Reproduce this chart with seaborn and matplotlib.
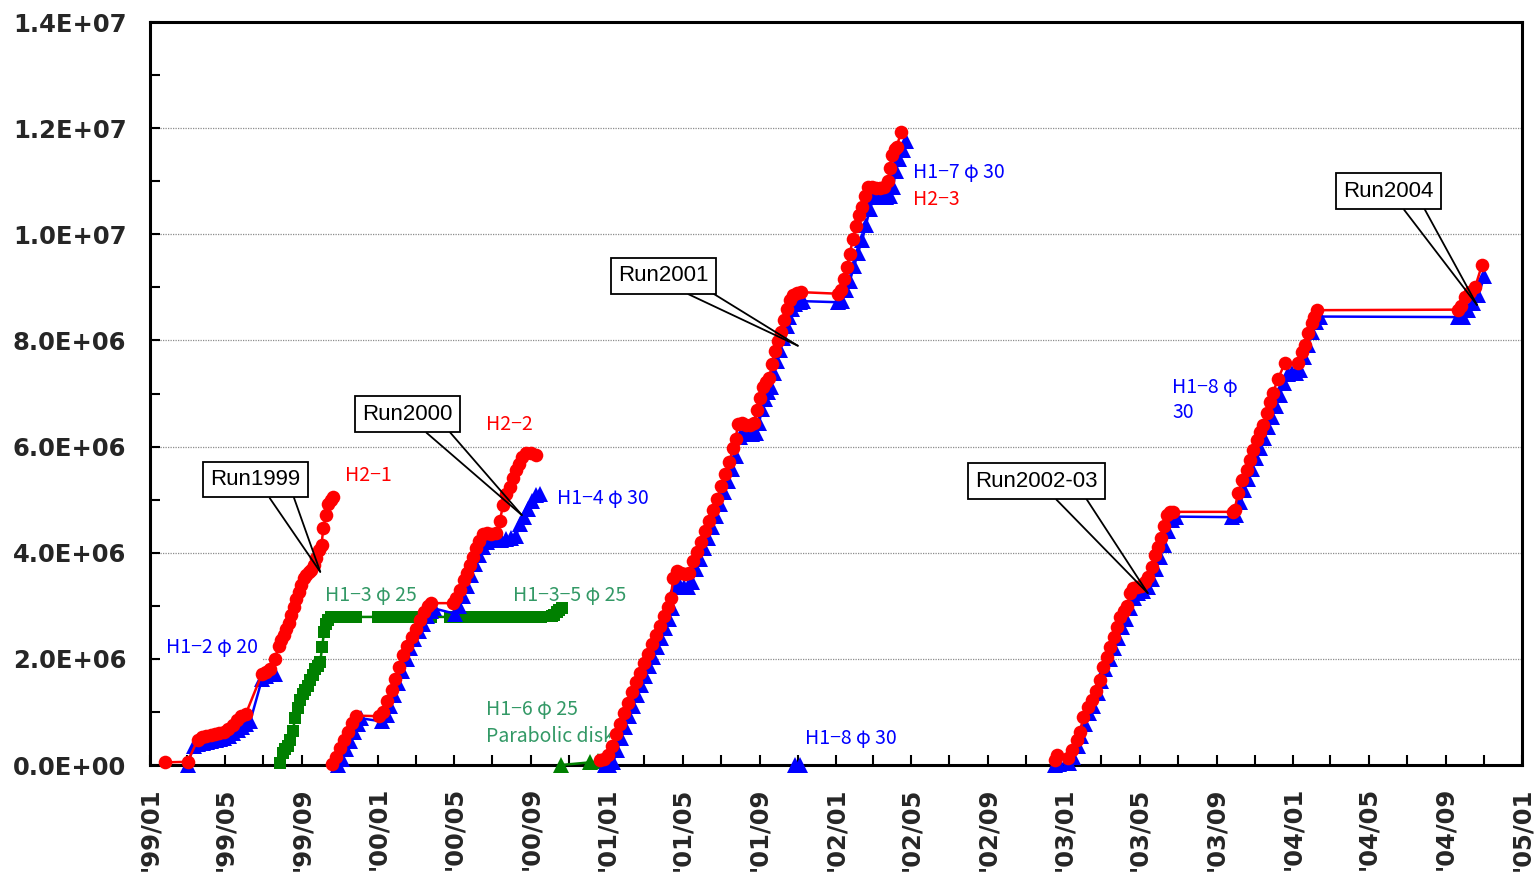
import matplotlib
matplotlib.use('Agg')
import matplotlib.pyplot as plt
import matplotlib.dates as mdates
from matplotlib.ticker import MultipleLocator, FuncFormatter
from matplotlib.transforms import Bbox, TransformedBbox
import pandas as pd
import seaborn as sns

# ---------------- data (values in units of 1E+06) ----------------
# H2-1 (red, Run1999)
h2_1_dates = ["1999-01-25", "1999-03-02", "1999-03-18", "1999-03-25", "1999-04-01", "1999-04-08",
              "1999-04-15", "1999-04-22", "1999-04-29", "1999-05-06", "1999-05-13", "1999-05-20",
              "1999-05-27", "1999-06-03", "1999-06-29", "1999-07-05", "1999-07-12", "1999-07-19",
              "1999-07-26", "1999-07-30", "1999-08-03", "1999-08-07", "1999-08-11", "1999-08-15",
              "1999-08-19", "1999-08-23", "1999-08-27", "1999-08-31", "1999-09-04", "1999-09-08",
              "1999-09-12", "1999-09-16", "1999-09-20", "1999-09-24", "1999-09-28", "1999-10-02",
              "1999-10-05", "1999-10-09", "1999-10-13", "1999-10-17", "1999-10-20"]
h2_1_vals = [0.05, 0.06, 0.47, 0.52, 0.54, 0.56, 0.58, 0.60, 0.62, 0.68, 0.75, 0.85,
             0.93, 0.96, 1.72, 1.75, 1.80, 2.00, 2.24, 2.35, 2.45, 2.56, 2.68, 2.82,
             2.98, 3.12, 3.26, 3.40, 3.52, 3.58, 3.63, 3.68, 3.76, 3.90, 4.05, 4.15,
             4.47, 4.72, 4.92, 5.00, 5.05]

# H1-2 phi20 (blue)
h1_2_dates = ["1999-03-02", "1999-03-12", "1999-03-19", "1999-03-26", "1999-04-02", "1999-04-09",
              "1999-04-16", "1999-04-23", "1999-04-30", "1999-05-07", "1999-05-14", "1999-05-21",
              "1999-05-28", "1999-06-04", "1999-06-10", "1999-06-29", "1999-07-06", "1999-07-13",
              "1999-07-20"]
h1_2_vals = [0.00, 0.36, 0.40, 0.42, 0.44, 0.46, 0.47, 0.49, 0.51, 0.55, 0.60, 0.66,
             0.72, 0.78, 0.82, 1.62, 1.68, 1.71, 1.72]

# H1-3 phi25 / H1-3-5 phi25 (green squares)
h1_3_dates = ["1999-07-28", "1999-08-01", "1999-08-05", "1999-08-09", "1999-08-13", "1999-08-17",
              "1999-08-21", "1999-08-25", "1999-08-29", "1999-09-02", "1999-09-06", "1999-09-10",
              "1999-09-14", "1999-09-18", "1999-09-22", "1999-09-26", "1999-09-30", "1999-10-03",
              "1999-10-06", "1999-10-09", "1999-10-13", "1999-10-17", "1999-10-22", "1999-10-27",
              "1999-11-01", "1999-11-06", "1999-11-11", "1999-11-16", "1999-11-21", "1999-11-26",
              "1999-12-31", "2000-01-05", "2000-01-10", "2000-01-15", "2000-01-20", "2000-01-25",
              "2000-01-30", "2000-02-04", "2000-02-09", "2000-02-14", "2000-02-19", "2000-02-24",
              "2000-02-29", "2000-03-05", "2000-03-10", "2000-03-15", "2000-03-20", "2000-03-25",
              "2000-04-24", "2000-04-29", "2000-05-04", "2000-05-09", "2000-05-14", "2000-05-19",
              "2000-05-24", "2000-05-29", "2000-06-03", "2000-06-08", "2000-06-13", "2000-06-18",
              "2000-06-23", "2000-06-28", "2000-07-03", "2000-07-08", "2000-07-13", "2000-07-18",
              "2000-07-23", "2000-07-28", "2000-08-02", "2000-08-07", "2000-08-12", "2000-08-17",
              "2000-08-22", "2000-08-27", "2000-09-01", "2000-09-06", "2000-09-11", "2000-09-16",
              "2000-10-04", "2000-10-08", "2000-10-12", "2000-10-16", "2000-10-20"]
h1_3_vals = [0.04, 0.22, 0.30, 0.36, 0.48, 0.65, 0.88, 1.08, 1.22, 1.33, 1.42, 1.49,
             1.60, 1.70, 1.80, 1.87, 1.94, 2.22, 2.50, 2.66, 2.74, 2.78, 2.79, 2.79,
             2.79, 2.79, 2.79, 2.79, 2.79, 2.79,
             2.79, 2.79, 2.79, 2.79, 2.79, 2.79, 2.79, 2.79, 2.79, 2.79, 2.79, 2.79,
             2.79, 2.79, 2.79, 2.79, 2.79, 2.79,
             2.79, 2.79, 2.79, 2.79, 2.79, 2.79, 2.79, 2.79, 2.79, 2.79, 2.79, 2.79,
             2.79, 2.79, 2.79, 2.79, 2.79, 2.79, 2.79, 2.79, 2.79, 2.79, 2.79, 2.79,
             2.79, 2.79, 2.79, 2.79, 2.79, 2.79,
             2.80, 2.82, 2.88, 2.93, 2.96]

# H1-6 phi25 parabolic disk (green triangles)
h1_6_dates = ["2000-10-19", "2000-12-04", "2000-12-17"]
h1_6_vals = [0.00, 0.05, 0.07]

# H2-2 (red, Run2000)
h2_2_dates = ["1999-10-19", "1999-10-25", "1999-11-01", "1999-11-07", "1999-11-13", "1999-11-20",
              "1999-11-26", "2000-01-02", "2000-01-09", "2000-01-15", "2000-01-22", "2000-01-28",
              "2000-02-03", "2000-02-10", "2000-02-16", "2000-02-23", "2000-03-01", "2000-03-07",
              "2000-03-14", "2000-03-20", "2000-03-25", "2000-04-29", "2000-05-04", "2000-05-10",
              "2000-05-17", "2000-05-21", "2000-05-26", "2000-05-31", "2000-06-05", "2000-06-10",
              "2000-06-16", "2000-06-22", "2000-06-29", "2000-07-07", "2000-07-13", "2000-07-18",
              "2000-07-23", "2000-07-29", "2000-08-03", "2000-08-08", "2000-08-13", "2000-08-17",
              "2000-08-24", "2000-09-01", "2000-09-09"]
h2_2_vals = [0.02, 0.15, 0.32, 0.48, 0.63, 0.80, 0.93, 0.92, 1.00, 1.20, 1.42, 1.62,
             1.85, 2.08, 2.25, 2.42, 2.56, 2.73, 2.88, 3.00, 3.05, 3.05, 3.15, 3.30,
             3.48, 3.62, 3.76, 3.92, 4.08, 4.22, 4.36, 4.38, 4.35, 4.37, 4.60, 4.90,
             5.10, 5.24, 5.40, 5.55, 5.68, 5.80, 5.87, 5.88, 5.85]

# H1-4 phi30 (blue, Run2000)
h1_4_dates = ["1999-10-28", "1999-11-04", "1999-11-10", "1999-11-17", "1999-11-23", "1999-11-29",
              "1999-12-04", "2000-01-07", "2000-01-14", "2000-01-20", "2000-01-26", "2000-02-02",
              "2000-02-08", "2000-02-15", "2000-02-21", "2000-02-27", "2000-03-06", "2000-03-12",
              "2000-03-19", "2000-03-25", "2000-03-30", "2000-05-02", "2000-05-09", "2000-05-15",
              "2000-05-21", "2000-05-28", "2000-06-03", "2000-06-10", "2000-06-16", "2000-06-22",
              "2000-06-29", "2000-07-07", "2000-07-15", "2000-07-23", "2000-07-31", "2000-08-08",
              "2000-08-14", "2000-08-21", "2000-08-27", "2000-09-02", "2000-09-09", "2000-09-15"]
h1_4_vals = [0.00, 0.12, 0.30, 0.46, 0.62, 0.78, 0.88, 0.82, 0.95, 1.12, 1.32, 1.55,
             1.78, 2.00, 2.20, 2.38, 2.52, 2.66, 2.80, 2.90, 2.95, 2.85, 3.00, 3.18,
             3.38, 3.58, 3.78, 3.95, 4.10, 4.20, 4.24, 4.24, 4.24, 4.25, 4.27, 4.32,
             4.55, 4.68, 4.82, 4.98, 5.08, 5.10]

# H2-3 (red, Run2001)
h2_3_dates = ["2000-12-20", "2000-12-26", "2001-01-02", "2001-01-08", "2001-01-15", "2001-01-21",
              "2001-01-27", "2001-02-03", "2001-02-09", "2001-02-16", "2001-02-22", "2001-02-28",
              "2001-03-07", "2001-03-13", "2001-03-19", "2001-03-26", "2001-04-01", "2001-04-07",
              "2001-04-12", "2001-04-16", "2001-04-22", "2001-04-28", "2001-05-05", "2001-05-11",
              "2001-05-18", "2001-05-24", "2001-05-30", "2001-06-06", "2001-06-12", "2001-06-19",
              "2001-06-25", "2001-07-01", "2001-07-08", "2001-07-14", "2001-07-21", "2001-07-25",
              "2001-07-28", "2001-08-04", "2001-08-10", "2001-08-16", "2001-08-23", "2001-08-28",
              "2001-09-02", "2001-09-06", "2001-09-11", "2001-09-16", "2001-09-21", "2001-09-26",
              "2001-10-01", "2001-10-05", "2001-10-10", "2001-10-15", "2001-10-20", "2001-10-24",
              "2001-10-31", "2001-11-06",
              "2002-01-04", "2002-01-09", "2002-01-14", "2002-01-18", "2002-01-23", "2002-01-28",
              "2002-02-02", "2002-02-07", "2002-02-12", "2002-02-16", "2002-02-21", "2002-02-28",
              "2002-03-06", "2002-03-12", "2002-03-19", "2002-03-25", "2002-03-28", "2002-03-31",
              "2002-04-05", "2002-04-08", "2002-04-15"]
h2_3_vals = [0.10, 0.12, 0.18, 0.35, 0.58, 0.78, 0.98, 1.17, 1.37, 1.56, 1.74, 1.92,
             2.10, 2.28, 2.45, 2.62, 2.80, 2.98, 3.15, 3.52, 3.65, 3.62, 3.60, 3.62,
             3.85, 4.02, 4.20, 4.40, 4.60, 4.80, 5.02, 5.25, 5.48, 5.70, 5.98, 6.15,
             6.42, 6.45, 6.40, 6.40, 6.45, 6.68, 6.92, 7.12, 7.22, 7.30, 7.55, 7.80,
             7.98, 8.15, 8.38, 8.60, 8.76, 8.86, 8.90, 8.91,
             8.88, 8.95, 9.15, 9.38, 9.62, 9.92, 10.15, 10.36, 10.52, 10.72, 10.90, 10.90,
             10.88, 10.88, 10.90, 11.00, 11.25, 11.50, 11.60, 11.65, 11.93]

# H1-7 phi30 (blue, Run2001)
h1_7_dates = ["2000-12-28", "2001-01-03", "2001-01-10", "2001-01-16", "2001-01-22", "2001-01-29",
              "2001-02-04", "2001-02-11", "2001-02-17", "2001-02-23", "2001-03-02", "2001-03-08",
              "2001-03-15", "2001-03-21", "2001-03-27", "2001-04-03", "2001-04-09", "2001-04-14",
              "2001-04-20", "2001-04-27", "2001-05-03", "2001-05-10", "2001-05-16", "2001-05-22",
              "2001-05-29", "2001-06-04", "2001-06-10", "2001-06-17", "2001-06-23", "2001-06-30",
              "2001-07-06", "2001-07-12", "2001-07-19", "2001-07-25", "2001-08-01", "2001-08-07",
              "2001-08-13", "2001-08-20", "2001-08-26", "2001-08-31", "2001-09-05", "2001-09-10",
              "2001-09-14", "2001-09-19", "2001-09-24", "2001-09-29", "2001-10-04", "2001-10-09",
              "2001-10-14", "2001-10-18", "2001-10-23", "2001-10-28", "2001-11-04", "2001-11-09",
              "2002-01-04", "2002-01-11", "2002-01-17", "2002-01-23", "2002-01-30", "2002-02-05",
              "2002-02-12", "2002-02-18", "2002-02-24", "2002-03-03", "2002-03-09", "2002-03-16",
              "2002-03-22", "2002-03-28", "2002-04-02", "2002-04-07", "2002-04-12", "2002-04-18",
              "2002-04-23"]
h1_7_vals = [0.00, 0.00, 0.05, 0.28, 0.50, 0.72, 0.92, 1.12, 1.32, 1.50, 1.68, 1.86,
             2.04, 2.22, 2.40, 2.58, 2.75, 2.95, 3.35, 3.38, 3.36, 3.36, 3.45, 3.70,
             3.88, 4.08, 4.28, 4.48, 4.70, 4.92, 5.14, 5.36, 5.58, 5.82, 6.18, 6.25,
             6.24, 6.24, 6.26, 6.45, 6.70, 6.90, 7.02, 7.12, 7.38, 7.62, 7.82, 8.05,
             8.28, 8.45, 8.60, 8.68, 8.72, 8.74,
             8.72, 8.75, 8.95, 9.12, 9.40, 9.65, 9.90, 10.18, 10.48, 10.70, 10.72, 10.70,
             10.70, 10.72, 10.90, 11.20, 11.42, 11.58, 11.76]

# H1-8 phi30 (blue, single start in late 2001)
h1_8a_dates = ["2001-10-28", "2001-11-05"]
h1_8a_vals = [0.00, 0.00]

# H2 (red, Run2002-03 / Run2004)
h2_4_dates = ["2002-12-17", "2002-12-20", "2003-01-07", "2003-01-13", "2003-01-21", "2003-01-26",
              "2003-01-31", "2003-02-08", "2003-02-14", "2003-02-20", "2003-02-27", "2003-03-04",
              "2003-03-10", "2003-03-15", "2003-03-21", "2003-03-26", "2003-03-31", "2003-04-06",
              "2003-04-11", "2003-04-16", "2003-04-21", "2003-04-27", "2003-05-03", "2003-05-10",
              "2003-05-14", "2003-05-21", "2003-05-26", "2003-05-30", "2003-06-04", "2003-06-09",
              "2003-06-14", "2003-06-19", "2003-06-23",
              "2003-09-27", "2003-09-30", "2003-10-05", "2003-10-12", "2003-10-20", "2003-10-24",
              "2003-10-29", "2003-11-05", "2003-11-09", "2003-11-14", "2003-11-21", "2003-11-25",
              "2003-11-30", "2003-12-08", "2003-12-19", "2004-01-09", "2004-01-16", "2004-01-20",
              "2004-01-25", "2004-02-01", "2004-02-04", "2004-02-09",
              "2004-09-21", "2004-09-26", "2004-10-02", "2004-10-10", "2004-10-18", "2004-10-29"]
h2_4_vals = [0.09, 0.19, 0.13, 0.28, 0.47, 0.62, 0.90, 1.09, 1.22, 1.40, 1.60, 1.85,
             2.04, 2.22, 2.42, 2.60, 2.79, 2.90, 3.00, 3.25, 3.34, 3.35, 3.38, 3.45,
             3.55, 3.73, 3.96, 4.11, 4.28, 4.50, 4.72, 4.76, 4.77,
             4.77, 4.80, 5.12, 5.37, 5.56, 5.75, 5.94, 6.12, 6.27, 6.41, 6.63, 6.84,
             7.01, 7.27, 7.57, 7.57, 7.78, 7.91, 8.14, 8.33, 8.45, 8.57,
             8.58, 8.65, 8.82, 8.92, 9.00, 9.42]

# H1-8 phi30 (blue, Run2002-03 / Run2004)
h1_8_dates = ["2002-12-17", "2002-12-23", "2003-01-09", "2003-01-15", "2003-01-22", "2003-01-28",
              "2003-02-03", "2003-02-10", "2003-02-16", "2003-02-23", "2003-03-01", "2003-03-07",
              "2003-03-15", "2003-03-21", "2003-03-28", "2003-04-03", "2003-04-09", "2003-04-16",
              "2003-04-22", "2003-04-29", "2003-05-07", "2003-05-14", "2003-05-21", "2003-05-27",
              "2003-06-03", "2003-06-09", "2003-06-15", "2003-06-22", "2003-06-28",
              "2003-09-26", "2003-10-02", "2003-10-09", "2003-10-15", "2003-10-21", "2003-10-28",
              "2003-11-03", "2003-11-09", "2003-11-16", "2003-11-22", "2003-11-28", "2003-12-05",
              "2003-12-11", "2003-12-18", "2003-12-24", "2003-12-31", "2004-01-06", "2004-01-12",
              "2004-01-19", "2004-01-25", "2004-02-01", "2004-02-07", "2004-02-13",
              "2004-09-21", "2004-09-29", "2004-10-07", "2004-10-15", "2004-10-23", "2004-11-02"]
h1_8_vals = [0.00, 0.02, 0.03, 0.15, 0.35, 0.55, 0.78, 0.98, 1.12, 1.35, 1.58, 1.80,
             2.00, 2.20, 2.40, 2.60, 2.76, 2.95, 3.15, 3.25, 3.28, 3.35, 3.50, 3.70,
             3.92, 4.15, 4.40, 4.62, 4.68,
             4.67, 4.72, 4.95, 5.18, 5.38, 5.58, 5.78, 5.98, 6.16, 6.36, 6.55, 6.76,
             6.98, 7.20, 7.36, 7.38, 7.38, 7.45, 7.68, 7.92, 8.15, 8.35, 8.45,
             8.44, 8.44, 8.58, 8.70, 8.85, 9.21]

# callouts: text, box centre (date, value), pointer tip (date, value)
callout_texts = ["Run1999", "Run2000", "Run2001", "Run2002-03", "Run2004"]
callout_box_dates = ["1999-06-18", "2000-02-16", "2001-03-31", "2002-11-17", "2004-06-01"]
callout_box_vals = [5.38, 6.61, 9.22, 5.35, 10.81]
callout_tip_dates = ["1999-09-30", "2000-08-17", "2001-11-01", "2003-05-14", "2004-10-21"]
callout_tip_vals = [3.64, 4.71, 7.90, 3.24, 8.67]

# series labels
label_texts = ["H2−1", "H1−2 φ 20", "H1−3 φ 25", "H2−2", "H1−4 φ 30", "H1−3−5 φ 25",
               "H1−6 φ 25", "Parabolic disk", "H1−8 φ 30", "H1−7 φ 30", "H2−3", "H1−8 φ", "30"]
label_dates = ["1999-11-08", "1999-01-26", "1999-10-07", "2000-06-21", "2000-10-12", "2000-08-03",
               "2000-06-21", "2000-06-21", "2001-11-12", "2002-05-04", "2002-05-04", "2003-06-22",
               "2003-06-22"]
label_vals = [5.46, 2.22, 3.20, 6.41, 5.03, 3.20, 1.055, 0.53, 0.49, 11.17, 10.65, 7.12, 6.65]

RED, BLUE, GREEN, SEA = "#FF0000", "#0000FF", "#008000", "#339966"
label_colors = [RED, BLUE, SEA, RED, BLUE, SEA, SEA, SEA, BLUE, BLUE, RED, BLUE, BLUE]

# ---------------- figure ----------------
sns.set_style("white")
plt.rcParams['font.family'] = ['DejaVu Sans']
plt.rcParams['font.weight'] = 'bold'

fig = plt.figure(figsize=(15.35, 8.88), dpi=100)
ax = fig.add_axes([150 / 1535, 1 - 765 / 888, 1372 / 1535, 743 / 888])


def draw(dates, vals, color, marker, ms, lw, z):
    df = pd.DataFrame({"date": pd.to_datetime(dates), "value": [v * 1e6 for v in vals]})
    sns.lineplot(data=df, x="date", y="value", ax=ax, color=color, marker=marker,
                 markersize=ms, markeredgewidth=0, linewidth=lw, estimator=None,
                 sort=False, zorder=z, clip_on=False)


draw(h1_3_dates, h1_3_vals, GREEN, "s", 8.5, 1.8, 3)
draw(h1_6_dates, h1_6_vals, GREEN, "^", 11, 1.8, 3)
for d, v in [(h1_2_dates, h1_2_vals), (h1_4_dates, h1_4_vals), (h1_7_dates, h1_7_vals),
             (h1_8a_dates, h1_8a_vals), (h1_8_dates, h1_8_vals)]:
    draw(d, v, BLUE, "^", 11, 1.8, 4)
for d, v in [(h2_1_dates, h2_1_vals), (h2_2_dates, h2_2_vals), (h2_3_dates, h2_3_vals),
             (h2_4_dates, h2_4_vals)]:
    draw(d, v, RED, "o", 9.8, 1.8, 5)

ax.set_xlim(pd.Timestamp("1999-01-01"), pd.Timestamp("2005-01-01"))
ax.set_ylim(0, 1.4e7)
ax.set_xlabel("")
ax.set_ylabel("")

ax.xaxis.set_major_locator(mdates.MonthLocator(bymonth=[1, 5, 9]))
ax.xaxis.set_minor_locator(mdates.MonthLocator(bymonth=[3, 7, 11]))
ax.xaxis.set_major_formatter(mdates.DateFormatter("'%y/%m"))
ax.yaxis.set_major_locator(MultipleLocator(2e6))
ax.yaxis.set_minor_locator(MultipleLocator(1e6))
ax.yaxis.set_major_formatter(FuncFormatter(lambda v, p: f"{v:.1E}"))

ax.tick_params(axis="both", which="both", direction="in", length=7, width=1.5,
               color="black", top=False, right=False, left=True, bottom=True)
ax.tick_params(axis="y", which="major", labelsize=17.5, pad=17)
ax.tick_params(axis="x", which="major", labelsize=17.5, pad=16, labelrotation=90)

for s in ax.spines.values():
    s.set_visible(True)
    s.set_color("black")
    s.set_linewidth(2.2)

ax.grid(False)
ax.yaxis.grid(True, which="major", linestyle=(0, (1, 1)), color="#8c8c8c", linewidth=0.9)
ax.set_axisbelow(True)

# callouts: box with two pointer lines converging on the tip
rel_left = [0.60, 0.61, 0.59, 0.60, 0.61]
rel_right = [0.90, 0.90, 0.92, 0.87, 0.86]
for t, bd, bv, td, tv, rl, rr in zip(callout_texts, callout_box_dates, callout_box_vals,
                                     callout_tip_dates, callout_tip_vals, rel_left, rel_right):
    xy = (mdates.date2num(pd.Timestamp(td)), tv * 1e6)
    xyt = (mdates.date2num(pd.Timestamp(bd)), bv * 1e6)
    for k, rel in enumerate([rl, rr]):
        visible = (k == 0)
        ax.annotate(t, xy=xy, xytext=xyt, ha="center", va="center", fontsize=16,
                    family="Liberation Sans", fontweight="normal",
                    color="black" if visible else "none", zorder=10 if visible else 9.5,
                    bbox=dict(boxstyle="square,pad=0.33",
                              fc="white" if visible else "none",
                              ec="black" if visible else "none", lw=1.3),
                    arrowprops=dict(arrowstyle="-", color="black", lw=1.3,
                                    relpos=(rel, 0.0), shrinkA=0, shrinkB=0))

# series labels
for t, d, v, c in zip(label_texts, label_dates, label_vals, label_colors):
    kw = {}
    if t.startswith("H1−2"):
        kw["bbox"] = dict(boxstyle="square,pad=0.3", fc="white", ec="none")
    txt = ax.text(mdates.date2num(pd.Timestamp(d)), v * 1e6, t, color=c, fontsize=14,
                  family=["Noto Sans CJK JP", "DejaVu Sans"], fontweight="normal",
                  ha="left", va="center", zorder=8, **kw)
    if t == "Parabolic disk":
        txt.set_clip_box(TransformedBbox(Bbox.from_extents(0, 0, (610 - 150) / 1372, 1),
                                         ax.transAxes))
        txt.set_clip_on(True)
    if t == "30":
        txt.set_clip_box(TransformedBbox(Bbox.from_extents(0, (765 - 418) / 743, 1, 1),
                                         ax.transAxes))
        txt.set_clip_on(True)

fig.savefig("out.png", dpi=100)
